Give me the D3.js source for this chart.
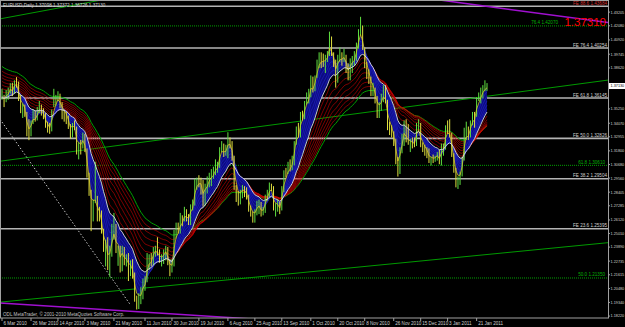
<!DOCTYPE html>
<html>
<head>
<meta charset="utf-8">
<script src="https://cdn.jsdelivr.net/npm/d3@7"></script>
<style>
  body { margin: 0; background: #000; }
  svg { display: block; }
</style>
</head>
<body>
<div id="chart"></div>
<script>
// frame
const WIDTH = 625;
const HEIGHT = 327;
const PLOT = {left: 0, right: 608, top: 1, bottom: 318};

// daily bars, 8 Mar 2010 .. 28 Jan 2011
const closes = [
  1.3625,1.3590,1.3650,1.3665,1.3720,1.3665,1.3750,1.3745,1.3600,1.3530,
  1.3540,1.3495,1.3310,1.3300,1.3410,1.3490,1.3440,1.3510,1.3550,1.3500,
  1.3480,1.3385,1.3365,1.3340,1.3495,1.3575,1.3615,1.3640,1.3560,1.3500,
  1.3480,1.3460,1.3390,1.3310,1.3390,1.3370,1.3160,1.3230,1.3215,1.3295,
  1.3190,1.2980,1.2830,1.2620,1.2750,1.2780,1.2660,1.2650,1.2530,1.2360,
  1.2380,1.2225,1.2340,1.2510,1.2570,1.2370,1.2390,1.2200,1.2370,1.2270,
  1.2280,1.2220,1.2230,1.2160,1.1970,1.1930,1.1980,1.1990,1.2110,1.2110,
  1.2300,1.2310,1.2280,1.2380,1.2390,1.2330,1.2290,1.2300,1.2335,1.2380,
  1.2265,1.2190,1.2230,1.2510,1.2560,1.2540,1.2620,1.2610,1.2690,1.2640,
  1.2610,1.2730,1.2740,1.2940,1.2945,1.2935,1.2910,1.2750,1.2895,1.2910,
  1.2980,1.2990,1.2995,1.3060,1.3060,1.3195,1.3230,1.3170,1.3180,1.3280,
  1.3240,1.3130,1.2870,1.2820,1.2760,1.2830,1.2880,1.2850,1.2810,1.2710,
  1.2660,1.2640,1.2660,1.2740,1.2750,1.2660,1.2690,1.2800,1.2830,1.2900,
  1.2880,1.2700,1.2720,1.2730,1.2680,1.2870,1.3010,1.3000,1.3065,1.3050,
  1.3105,1.3250,1.3380,1.3310,1.3490,1.3480,1.3580,1.3620,1.3630,1.3790,
  1.3680,1.3790,1.3890,1.3950,1.3940,1.3920,1.3930,1.3970,1.4100,1.3970,
  1.3900,1.3760,1.3940,1.3960,1.3940,1.3960,1.3870,1.3780,1.3900,1.3940,
  1.3940,1.4060,1.4150,1.4200,1.4030,1.3900,1.3800,1.3770,1.3670,1.3690,
  1.3590,1.3510,1.3530,1.3600,1.3670,1.3590,1.3380,1.3360,1.3330,1.3250,
  1.3090,1.2990,1.3190,1.3310,1.3420,1.3270,1.3250,1.3250,1.3240,1.3230,
  1.3390,1.3390,1.3230,1.3220,1.3180,1.3160,1.3090,1.3120,1.3110,1.3125,
  1.3160,1.3090,1.3210,1.3210,1.3380,1.3370,1.3310,1.3140,1.3020,1.2910,
  1.2940,1.2980,1.3120,1.3360,1.3380,1.3310,1.3420,1.3470,1.3460,1.3610,
  1.3620,1.3660,1.3700,1.3710,1.3713
];
const highs = [
  1.3690,1.3640,1.3680,1.3700,1.3736,1.3740,1.3760,1.3786,1.3750,1.3640,
  1.3570,1.3560,1.3500,1.3440,1.3430,1.3520,1.3510,1.3540,1.3590,1.3560,
  1.3530,1.3490,1.3420,1.3410,1.3520,1.3690,1.3640,1.3670,1.3650,1.3580,
  1.3520,1.3500,1.3470,1.3400,1.3410,1.3430,1.3380,1.3250,1.3270,1.3330,
  1.3320,1.3200,1.3000,1.2860,1.2780,1.3090,1.2810,1.2720,1.2690,1.2540,
  1.2450,1.2470,1.2400,1.2580,1.2670,1.2580,1.2400,1.2400,1.2400,1.2390,
  1.2330,1.2340,1.2280,1.2290,1.2180,1.1990,1.2010,1.2060,1.2130,1.2150,
  1.2340,1.2330,1.2340,1.2390,1.2400,1.2470,1.2370,1.2330,1.2370,1.2400,
  1.2390,1.2290,1.2290,1.2530,1.2590,1.2590,1.2670,1.2650,1.2720,1.2700,
  1.2660,1.2740,1.2780,1.2950,1.2960,1.2980,1.2960,1.2940,1.2910,1.2970,
  1.3000,1.3030,1.3050,1.3110,1.3090,1.3210,1.3260,1.3240,1.3230,1.3333,
  1.3290,1.3260,1.3140,1.2900,1.2850,1.2860,1.2900,1.2890,1.2880,1.2820,
  1.2730,1.2680,1.2700,1.2770,1.2780,1.2760,1.2720,1.2820,1.2860,1.2920,
  1.2910,1.2890,1.2750,1.2780,1.2760,1.2890,1.3020,1.3040,1.3090,1.3110,
  1.3140,1.3260,1.3380,1.3410,1.3500,1.3510,1.3590,1.3660,1.3690,1.3800,
  1.3790,1.3800,1.3930,1.3990,1.3990,1.3980,1.3970,1.4000,1.4160,1.4120,
  1.3990,1.3930,1.3970,1.4030,1.3990,1.4020,1.3970,1.3900,1.3940,1.3960,
  1.4000,1.4070,1.4180,1.4282,1.4210,1.4030,1.3910,1.3850,1.3790,1.3740,
  1.3700,1.3630,1.3580,1.3650,1.3720,1.3720,1.3600,1.3420,1.3390,1.3340,
  1.3280,1.3130,1.3210,1.3320,1.3430,1.3440,1.3400,1.3280,1.3290,1.3290,
  1.3410,1.3440,1.3410,1.3250,1.3230,1.3210,1.3200,1.3130,1.3150,1.3140,
  1.3170,1.3190,1.3240,1.3240,1.3390,1.3430,1.3440,1.3330,1.3160,1.3040,
  1.2970,1.3010,1.3130,1.3370,1.3420,1.3380,1.3430,1.3500,1.3500,1.3620,
  1.3660,1.3700,1.3720,1.3760,1.3737
];
const lows = [
  1.3600,1.3540,1.3580,1.3600,1.3650,1.3630,1.3650,1.3700,1.3590,1.3490,
  1.3450,1.3460,1.3300,1.3268,1.3300,1.3400,1.3420,1.3430,1.3490,1.3470,
  1.3440,1.3370,1.3330,1.3320,1.3340,1.3540,1.3550,1.3590,1.3530,1.3440,
  1.3420,1.3400,1.3360,1.3280,1.3290,1.3350,1.3150,1.3110,1.3150,1.3200,
  1.3170,1.2960,1.2810,1.2520,1.2600,1.2750,1.2600,1.2600,1.2500,1.2350,
  1.2230,1.2200,1.2145,1.2310,1.2450,1.2340,1.2235,1.2180,1.2190,1.2240,
  1.2230,1.2110,1.2150,1.2130,1.1940,1.1876,1.1880,1.1920,1.1960,1.2030,
  1.2100,1.2200,1.2230,1.2240,1.2310,1.2320,1.2260,1.2230,1.2250,1.2280,
  1.2240,1.2150,1.2180,1.2230,1.2460,1.2500,1.2500,1.2560,1.2600,1.2600,
  1.2570,1.2570,1.2690,1.2730,1.2860,1.2880,1.2820,1.2720,1.2730,1.2830,
  1.2880,1.2890,1.2950,1.2980,1.3000,1.3040,1.3170,1.3130,1.3140,1.3120,
  1.3200,1.3100,1.2860,1.2760,1.2730,1.2740,1.2790,1.2800,1.2780,1.2680,
  1.2640,1.2590,1.2590,1.2650,1.2660,1.2640,1.2650,1.2670,1.2770,1.2800,
  1.2850,1.2690,1.2640,1.2680,1.2660,1.2690,1.2840,1.2960,1.2990,1.3010,
  1.3020,1.3060,1.3230,1.3290,1.3290,1.3430,1.3440,1.3560,1.3570,1.3620,
  1.3660,1.3670,1.3780,1.3860,1.3860,1.3870,1.3820,1.3910,1.3960,1.3960,
  1.3870,1.3700,1.3740,1.3910,1.3880,1.3910,1.3820,1.3760,1.3760,1.3820,
  1.3880,1.3920,1.4020,1.4130,1.4010,1.3860,1.3770,1.3730,1.3630,1.3630,
  1.3570,1.3450,1.3450,1.3510,1.3580,1.3570,1.3350,1.3310,1.3290,1.3220,
  1.3070,1.2969,1.2990,1.3160,1.3220,1.3250,1.3230,1.3170,1.3200,1.3210,
  1.3220,1.3350,1.3210,1.3170,1.3140,1.3120,1.3080,1.3060,1.3080,1.3090,
  1.3100,1.3070,1.3060,1.3140,1.3190,1.3320,1.3290,1.3130,1.3000,1.2880,
  1.2867,1.2900,1.2970,1.3100,1.3270,1.3270,1.3290,1.3390,1.3370,1.3460,
  1.3590,1.3570,1.3610,1.3670,1.3673
];

// time axis: label text and the bar it sits on
const dateLabels = ["6 Mar 2010","26 Mar 2010","14 Apr 2010","3 May 2010","21 May 2010",
  "11 Jun 2010","30 Jun 2010","19 Jul 2010","6 Aug 2010","25 Aug 2010","13 Sep 2010",
  "1 Oct 2010","20 Oct 2010","8 Nov 2010","26 Nov 2010","15 Dec 2010","3 Jan 2011","21 Jan 2011"];
const dateBars = [0,14,27,40,54,69,82,95,109,122,135,149,162,175,189,202,215,229];

// price axis labels
const priceTicks = [1.43205,1.42080,1.40920,1.39745,1.38620,1.35250,1.34070,1.32955,
  1.31800,1.30680,1.29560,1.28405,1.27285,1.26120,1.25010,1.23890,1.22735,1.21615,
  1.20480,1.19340,1.18220];
const lastPrice = 1.37130;

// fibo expansion (gray) and fibo (green) levels
const feNames = ["FE 88.6","FE 76.4","FE 61.8","FE 50.0","FE 38.2","FE 23.6"];
const fePrices = [1.43684,1.40254,1.36145,1.32826,1.29504,1.25395];
const fiboNames = ["76.4","61.8","50.0"];
const fiboPrices = [1.42070,1.30610,1.21350];

// trend lines: [bar1, price1, bar2, price2]
const greenTrends = [[0,1.4268,48,1.4420],[0,1.3097,234,1.3629],[0,1.1938,234,1.2328]];
const purpleTrends = [[0,1.4903,234,1.4368],[0,1.1929,234,1.1675]];
const dottedTrend = [0,1.3417,62,1.1913];
const bigLabel = "1.37310";

// moving averages: periods and their values at the first bar
const bluePeriods = [3,5,7,9,11,13];
const blueSeeds = [1.3630,1.3635,1.3630,1.3625,1.3620,1.3618];
const whitePeriod = 15;
const whiteSeed = 1.3615;
const redPeriods = [18,22,26,30,34,38,42];
const redSeeds = [1.3672,1.3700,1.3730,1.3760,1.3790,1.3815,1.3845];
const greenPeriod = 46;
const greenSeed = 1.3885;

function ema(values, period, seed) {
  const k = 2 / (period + 1);
  let prev = seed;
  return values.map((v) => prev = prev + k * (v - prev));
}

const svg = d3.select("#chart")
  .append("svg")
    .attr("width", WIDTH)
    .attr("height", HEIGHT)
    .style("background", "#000");

const x = d3.scaleLinear().domain([0, closes.length - 1]).range([2, 487]);
const y = d3.scaleLinear().domain([1.18061, 1.44201]).range([PLOT.bottom, 0]);

svg.append("clipPath").attr("id", "plotclip")
  .append("rect")
    .attr("x", PLOT.left).attr("y", PLOT.top)
    .attr("width", PLOT.right - PLOT.left).attr("height", PLOT.bottom - PLOT.top);

const plot = svg.append("g").attr("clip-path", "url(#plotclip)");
const FONT = "Liberation Sans, Arial, sans-serif";

// horizontal levels
plot.selectAll(".fe")
  .data(fePrices)
  .enter()
  .append("line")
    .attr("x1", PLOT.left).attr("x2", PLOT.right)
    .attr("y1", (d) => y(d)).attr("y2", (d) => y(d))
    .attr("stroke", "#b4b4b4").attr("stroke-width", 1.6);

plot.selectAll(".fibo")
  .data(fiboPrices)
  .enter()
  .append("line")
    .attr("x1", PLOT.left).attr("x2", PLOT.right)
    .attr("y1", (d) => y(d)).attr("y2", (d) => y(d))
    .attr("stroke", "#00a000").attr("stroke-width", 1)
    .attr("stroke-dasharray", "1,1");

// trend lines, stretched across the whole plot
const xMin = x.invert(PLOT.left), xMax = x.invert(PLOT.right);
function rayPoints(t) {
  const slope = (t[3] - t[1]) / (t[2] - t[0]);
  return [xMin, xMax].map((b) => [x(b), y(t[1] + slope * (b - t[0]))]);
}
plot.selectAll(".gtrend")
  .data(greenTrends)
  .enter()
  .append("path")
    .attr("d", (d) => d3.line()(rayPoints(d)))
    .attr("stroke", "#009a00").attr("stroke-width", 1).attr("fill", "none");

plot.selectAll(".ptrend")
  .data(purpleTrends)
  .enter()
  .append("path")
    .attr("d", (d) => d3.line()(rayPoints(d)))
    .attr("stroke", "#a010d0").attr("stroke-width", 1.5).attr("fill", "none");

// dotted line runs in from the left edge and stops at its second point
const dotStart = rayPoints(dottedTrend)[0];
plot.append("path")
  .attr("d", d3.line()([dotStart, [x(dottedTrend[2]), y(dottedTrend[3])]]))
  .attr("stroke", "#c8c8c8").attr("stroke-width", 1)
  .attr("stroke-dasharray", "1.5,2").attr("fill", "none");

// indicator lines
const maLine = d3.line().x((d, i) => x(i)).y((d) => y(d));
const blues = bluePeriods.map((p, k) => ema(closes, p, blueSeeds[k]));
const white = ema(closes, whitePeriod, whiteSeed);
const reds = redPeriods.map((p, k) => ema(closes, p, redSeeds[k]));
const green = ema(closes, greenPeriod, greenSeed);

plot.append("path")
  .attr("d", maLine(green))
  .attr("stroke", "#00a000").attr("stroke-width", 1).attr("fill", "none");

plot.selectAll(".red")
  .data(reds)
  .enter()
  .append("path")
    .attr("d", (d) => maLine(d))
    .attr("stroke", "#d00000").attr("stroke-width", 0.6).attr("fill", "none");

plot.append("path")
  .attr("d", d3.area().x((d, i) => x(i)).y0((d) => y(d)).y1((d, i) => y(white[i]))(blues[0]))
  .attr("fill", "#0c0c80");

plot.selectAll(".blue")
  .data(blues.slice(1))
  .enter()
  .append("path")
    .attr("d", (d) => maLine(d))
    .attr("stroke", "#2222c8").attr("stroke-width", 0.6).attr("fill", "none");

// price bars
plot.selectAll(".bar")
  .data(closes)
  .enter()
  .append("line")
    .attr("x1", (d, i) => x(i)).attr("x2", (d, i) => x(i))
    .attr("y1", (d, i) => y(highs[i])).attr("y2", (d, i) => y(lows[i]))
    .attr("stroke", (d, i) => (i > 0 && d < closes[i - 1]) ? "#e0e040" : "#60e040")
    .attr("stroke-width", 1);

plot.append("path")
  .attr("d", maLine(blues[0]))
  .attr("stroke", "#e8d820").attr("stroke-width", 0.7).attr("fill", "none");

plot.append("path")
  .attr("d", maLine(white))
  .attr("stroke", "#e0e0e0").attr("stroke-width", 0.9).attr("fill", "none");

// level captions
svg.selectAll(".fetext")
  .data(fePrices)
  .enter()
  .append("text")
    .attr("x", PLOT.right - 1).attr("y", (d) => y(d) - 1.5)
    .attr("text-anchor", "end")
    .attr("font-family", FONT).attr("font-size", 4.6)
    .attr("fill", (d, i) => i === 0 ? "#d03030" : "#d0d0d0")
    .text((d, i) => feNames[i] + " " + d.toFixed(5));

// the top green caption sits just left of the big red price
svg.selectAll(".fibotext")
  .data(fiboPrices)
  .enter()
  .append("text")
    .attr("x", (d, i) => i === 0 ? PLOT.right - 50 : PLOT.right - 3)
    .attr("y", (d) => y(d) - 1.5)
    .attr("text-anchor", "end")
    .attr("font-family", FONT).attr("font-size", 4.6)
    .attr("fill", "#00b000")
    .text((d, i) => fiboNames[i] + " " + d.toFixed(5));

svg.append("text")
  .attr("x", PLOT.right - 2).attr("y", 26)
  .attr("text-anchor", "end")
  .attr("font-family", FONT).attr("font-size", 11.5)
  .attr("fill", "#ff0000")
  .text(bigLabel);

// frame
svg.append("rect")
  .attr("x", PLOT.left + 0.5).attr("y", PLOT.top - 0.5)
  .attr("width", PLOT.right - PLOT.left).attr("height", PLOT.bottom - PLOT.top + 0.5)
  .attr("fill", "none").attr("stroke", "#a0a0a0").attr("stroke-width", 1);

// price axis
svg.selectAll(".ptick")
  .data(priceTicks)
  .enter()
  .append("line")
    .attr("x1", PLOT.right).attr("x2", PLOT.right + 2)
    .attr("y1", (d) => y(d)).attr("y2", (d) => y(d))
    .attr("stroke", "#a0a0a0");

svg.selectAll(".plabel")
  .data(priceTicks)
  .enter()
  .append("text")
    .attr("x", PLOT.right + 2.5).attr("y", (d) => y(d) + 1.4)
    .attr("font-family", FONT).attr("font-size", 3.8)
    .attr("fill", "#d0d0d0")
    .text((d) => d.toFixed(5));

svg.append("rect")
  .attr("x", PLOT.right + 1).attr("y", y(lastPrice) - 3)
  .attr("width", 16).attr("height", 6)
  .attr("fill", "#ffffff");
svg.append("text")
  .attr("x", PLOT.right + 2.5).attr("y", y(lastPrice) + 1.4)
  .attr("font-family", FONT).attr("font-size", 3.8)
  .attr("fill", "#000")
  .text(lastPrice.toFixed(5));

// time axis
svg.selectAll(".dtick")
  .data(dateBars)
  .enter()
  .append("line")
    .attr("x1", (d) => x(d)).attr("x2", (d) => x(d))
    .attr("y1", PLOT.bottom).attr("y2", PLOT.bottom + 3)
    .attr("stroke", "#a0a0a0");

svg.selectAll(".dlabel")
  .data(dateBars)
  .enter()
  .append("text")
    .attr("x", (d) => x(d) + 1.5).attr("y", PLOT.bottom + 6.5)
    .attr("font-family", FONT).attr("font-size", 4.6)
    .attr("fill", "#d0d0d0")
    .text((d, i) => dateLabels[i]);

// header and footer
svg.append("text")
  .attr("x", 3).attr("y", 6.5)
  .attr("font-family", FONT).attr("font-size", 4.6)
  .attr("fill", "#d0d0d0")
  .text("EURUSD,Daily  1.37098 1.37372 1.36726 1.37130");

svg.append("text")
  .attr("x", 3).attr("y", PLOT.bottom - 2.5)
  .attr("font-family", FONT).attr("font-size", 4.6)
  .attr("fill", "#c0c0c0")
  .text("ODL MetaTrader, © 2001-2010 MetaQuotes Software Corp.");
</script>
</body>
</html>
